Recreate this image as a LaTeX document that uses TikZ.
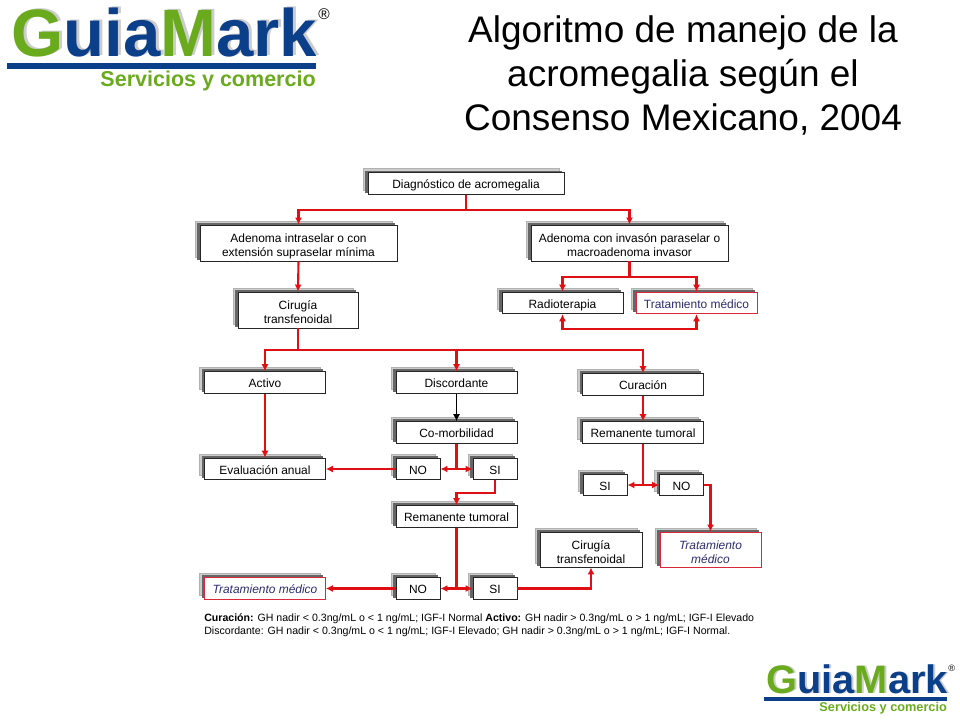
\documentclass[tikz,border=0pt]{standalone}
\usepackage{fontspec}
\setmainfont{Liberation Sans}
\usetikzlibrary{shadows}
\usetikzlibrary{arrows.meta}

\definecolor{gmgreen}{HTML}{6AAB1E}
\definecolor{gmblue}{HTML}{0B3F8A}
\definecolor{linered}{HTML}{E00F14}
\definecolor{boxred}{HTML}{D8283A}
\definecolor{textnavy}{HTML}{2C2C70}

\tikzset{
    flowbox/.style={draw=black!85, line width=0.6pt, fill=white, inner sep=0pt, align=center,
        text height=8.6pt, text depth=1pt,
        font=\fontsize{8.5}{10}\selectfont,
        general shadow={fill=black!20, draw=black!30, shadow xshift=-3.55pt, shadow yshift=2.85pt},
        general shadow={fill=black!60, draw=black!60, shadow xshift=-1.8pt, shadow yshift=1.4pt}},
    twoline/.style={text height=20.8pt, text depth=1pt},
    widebox/.style={flowbox, twoline, minimum width=4.925cm, minimum height=0.9cm},
    tallbox/.style={flowbox, twoline, minimum width=3cm, minimum height=0.9cm},
    midbox/.style={flowbox, minimum width=3.02cm, minimum height=0.54cm},
    smallbox/.style={flowbox, minimum width=1.1cm, minimum height=0.54cm},
    redbox/.style={draw=boxred, text=textnavy},
    redline/.style={draw=linered, line width=1.5pt, -{Latex[length=5pt,width=5pt]}},
    redplain/.style={draw=linered, line width=1.5pt},
    blackline/.style={draw=black, line width=1.1pt, -{Latex[length=5pt,width=5pt]}},
    gmlogo/.pic={
        \node[anchor=base west, inner sep=0pt, text=black!20, font=\fontsize{47.7}{50}\selectfont\bfseries] (back) at (14,56) {GuiaMark};
        \node[anchor=base west, inner sep=0pt, font=\fontsize{47.7}{50}\selectfont\bfseries] (word) at (11,57) {\textcolor{gmgreen}{G}\textcolor{gmblue}{uia}\textcolor{gmgreen}{M}\textcolor{gmblue}{ark}};
        \fill[gmblue] (7,63) rectangle (316,69.5);
        \node[anchor=base east, inner sep=0pt, text=gmgreen, font=\fontsize{15.3}{17}\selectfont\bfseries] (slogan) at (316,87) {Servicios y comercio};
        \node[inner sep=0pt, font=\fontsize{11}{12}\selectfont] (mark) at (324,14) {®};
    }
}

\begin{document}
\begin{tikzpicture}[x=0.025cm, y=-0.025cm]
    \useasboundingbox (0,0) rectangle (960,720);

    \pic (logotop) at (0,0) {gmlogo};
    \pic[scale=0.592, transform shape] (logobottom) at (760,660) {gmlogo};

    \node[align=center, font=\fontsize{26.3}{31.3}\selectfont] (title) at (683,75.5) {Algoritmo de manejo de la\\acromegalia según el\\Consenso Mexicano, 2004};

    \node[flowbox, minimum width=4.9cm, minimum height=0.53cm] (diag) at (466,183.5) {Diagnóstico de acromegalia};
    \node[widebox] (intra) at (298.5,243) {Adenoma intraselar o con\\extensión supraselar mínima};
    \node[widebox] (para) at (629.5,243) {Adenoma con invasón paraselar o\\macroadenoma invasor};
    \node[tallbox] (cirugia) at (298,310) {Cirugía\\transfenoidal};
    \node[midbox] (radio) at (562.5,303) {Radioterapia};
    \node[midbox, redbox] (medico) at (696.5,303) {Tratamiento médico};

    \node[midbox] (activo) at (265,382.5) {Activo};
    \node[midbox] (discord) at (456.5,382.5) {Discordante};
    \node[midbox] (curacion) at (643,384.5) {Curación};
    \node[midbox] (comorb) at (456.5,432.5) {Co-morbilidad};
    \node[midbox] (evalua) at (265,469) {Evaluación anual};
    \node[smallbox] (nodisc) at (418,469) {NO};
    \node[smallbox] (sidisc) at (495,469) {SI};
    \node[midbox] (remdisc) at (456.5,516.5) {Remanente tumoral};

    \node[midbox] (remcur) at (643,432.5) {Remanente tumoral};
    \node[smallbox] (sicur) at (605,485) {SI};
    \node[smallbox] (nocur) at (681.5,485) {NO};
    \node[flowbox, twoline, minimum width=2.55cm, minimum height=0.875cm] (cirfin) at (591,549.5) {Cirugía\\transfenoidal};
    \node[flowbox, twoline, redbox, minimum width=2.525cm, minimum height=0.875cm, font=\fontsize{8.5}{10}\selectfont\itshape] (medcur) at (710.5,549.5) {Tratamiento\\médico};

    \node[midbox, redbox, font=\fontsize{8.5}{10}\selectfont\itshape] (medfin) at (265,588.5) {Tratamiento médico};
    \node[smallbox] (nofin) at (418,588.5) {NO};
    \node[smallbox] (sifin) at (495,588.5) {SI};

    \node[anchor=base west, inner sep=0pt, font=\fontsize{7.53}{9}\selectfont] (legenda) at (204,621) {\textbf{Curación:} GH nadir < 0.3ng/mL o < 1 ng/mL; IGF-I Normal \textbf{Activo:} GH nadir > 0.3ng/mL o > 1 ng/mL; IGF-I Elevado};
    \node[anchor=base west, inner sep=0pt, font=\fontsize{7.53}{9}\selectfont] (legendb) at (204,634.5) {Discordante: GH nadir < 0.3ng/mL o < 1 ng/mL; IGF-I Elevado; GH nadir > 0.3ng/mL o > 1 ng/mL; IGF-I Normal.};

    \coordinate (splitdiag) at (466,210);
    \coordinate (splitpara) at (629.5,277);
    \coordinate (splitcir) at (298,350);
    \coordinate (looptop) at (562.5,329);
    \coordinate (loopend) at (696.5,329);
    \coordinate (splitsi) at (495,493);

    \draw[redplain] (diag.south) -- (splitdiag);
    \draw[redline] (splitdiag) -| (intra.north);
    \draw[redline] (splitdiag) -| (para.north);
    \draw[redline] (intra.south) -- (cirugia.north);
    \draw[redplain] (para.south) -- (splitpara);
    \draw[redline] (splitpara) -| (radio.north);
    \draw[redline] (splitpara) -| (medico.north);
    \draw[redline, {Latex[length=5pt,width=5pt]}-{Latex[length=5pt,width=5pt]}] (radio.south) -- (looptop) -- (loopend) -- (medico.south);

    \draw[redplain] (cirugia.south) -- (splitcir);
    \draw[redline] (splitcir) -| (activo.north);
    \draw[redline] (splitcir) -| (discord.north);
    \draw[redline] (splitcir) -| (curacion.north);

    \draw[redline] (activo.south) -- (evalua.north);
    \draw[blackline] (discord.south) -- (comorb.north);
    \draw[redplain] (comorb.south) -- (comorb.south |- nodisc.east);
    \draw[redline] (comorb.south |- nodisc.east) -- (nodisc.east);
    \draw[redline] (comorb.south |- sidisc.west) -- (sidisc.west);
    \draw[redline] (nodisc.west) -- (evalua.east);
    \draw[redline] (sidisc.south) -- (splitsi) -| (remdisc.north);

    \draw[redplain] (remdisc.south) -- (remdisc.south |- nofin.east);
    \draw[redline] (remdisc.south |- nofin.east) -- (nofin.east);
    \draw[redline] (remdisc.south |- sifin.west) -- (sifin.west);
    \draw[redline] (nofin.west) -- (medfin.east);
    \draw[redline] (sifin.east) -| (cirfin.south);

    \draw[redline] (curacion.south) -- (remcur.north);
    \draw[redplain] (remcur.south) -- (remcur.south |- sicur.east);
    \draw[redline] (remcur.south |- sicur.east) -- (sicur.east);
    \draw[redline] (remcur.south |- nocur.west) -- (nocur.west);
    \draw[redline] (nocur.east) -| (medcur.north);
\end{tikzpicture}
\end{document}
